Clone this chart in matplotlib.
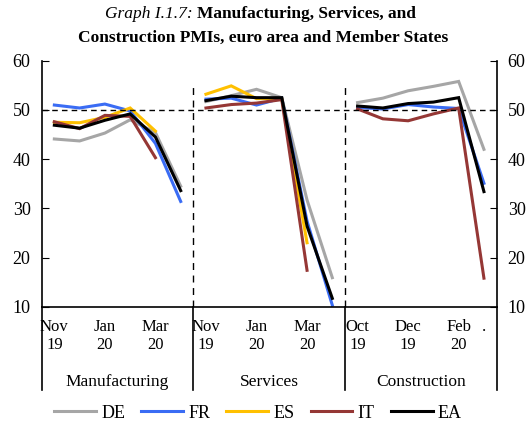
import numpy as np
import matplotlib
matplotlib.use("Agg")
import matplotlib.pyplot as plt

plt.rcParams["font.family"] = ["Liberation Serif", "DejaVu Serif"]

nan = np.nan
# 18 slots: Manufacturing (Nov19-Apr20), Services (Nov19-Apr20), Construction (Oct19-Mar20)
tick_labels = ["Nov\n19", "", "Jan\n20", "", "Mar\n20", "",
               "Nov\n19", "", "Jan\n20", "", "Mar\n20", "",
               "Oct\n19", "", "Dec\n19", "", "Feb\n20", "."]
groups = ["Manufacturing", "Services", "Construction"]

de = [44.1, 43.7, 45.3, 48.0, 45.4, 34.5,
      51.7, 52.9, 54.2, 52.5, 31.7, 15.9,
      51.5, 52.4, 53.9, 54.8, 55.8, 42.0]
fr = [51.0, 50.4, 51.2, 49.8, 43.2, 31.4,
      52.2, 52.4, 51.0, 52.4, 27.4, 10.3,
      50.5, 50.2, 51.1, 50.6, 50.3, 35.1]
es = [47.5, 47.4, 48.5, 50.4, 45.7, nan,
      53.2, 54.9, 52.3, 52.3, 23.0, nan,
      nan, nan, nan, nan, nan, nan]
it = [47.6, 46.2, 48.9, 48.7, 40.3, nan,
      50.4, 51.1, 51.4, 52.1, 17.4, nan,
      50.2, 48.2, 47.8, 49.2, 50.4, 15.8]
ea = [46.9, 46.3, 47.9, 49.2, 44.5, 33.6,
      51.9, 52.8, 52.5, 52.5, 26.4, 11.7,
      50.8, 50.4, 51.3, 51.6, 52.5, 33.4]

series = [("DE", de, "#A6A6A6"), ("FR", fr, "#3A6CF4"), ("ES", es, "#FFC000"),
          ("IT", it, "#953735"), ("EA", ea, "#000000")]

fig = plt.figure(figsize=(5.32, 4.28), dpi=100)
ax = fig.add_axes([0.0784, 0.2834, 0.855, 0.5746])

x = np.arange(18)
for name, vals, color in series:
    v = np.array(vals, dtype=float)
    for g in range(3):
        sl = slice(6 * g, 6 * g + 6)
        ax.plot(x[sl], v[sl], color=color, lw=2.2,
                label=name if g == 0 else None, solid_joinstyle="miter")

ax.axhline(50, color="k", ls=(0, (4, 3)), lw=1.0)
for xs in (5.5, 11.5):
    ax.axvline(xs, ymin=0, ymax=0.9, color="k", ls=(0, (5, 4)), lw=1.0)

ax.set_xlim(-0.5, 17.5)
ax.set_ylim(10, 60)
ax.set_yticks(range(10, 61, 10))
ax.tick_params(axis="y", direction="in", length=5, labelsize=13,
               right=True, labelright=True, pad=8)
ax.set_xticks(x)
ax.set_xticklabels(tick_labels, fontsize=12, linespacing=1.15)
ax.tick_params(axis="x", length=0, pad=9)
for lab in ax.get_xticklabels():
    lab.set_ha("center")
ax.spines["top"].set_visible(False)
for sp in ("left", "right", "bottom"):
    ax.spines[sp].set_linewidth(1.2)

# group separators below the axis and group names
for xs in (-0.5, 5.5, 11.5, 17.5):
    ax.plot([xs, xs], [0, -0.34], color="k", lw=1.2,
            transform=ax.get_xaxis_transform(), clip_on=False)
for g, name in enumerate(groups):
    ax.text(6 * g + 2.5, -0.305, name, fontsize=12.5, ha="center", va="center",
            transform=ax.get_xaxis_transform())

fig.legend(loc="center", bbox_to_anchor=(0.485, 0.035), ncol=5, frameon=False,
           fontsize=13, handlelength=2.3, columnspacing=0.9, handletextpad=0.3)

# title: italic prefix + bold text
t1 = fig.text(0.197, 0.967, "Graph I.1.7: ", style="italic", fontsize=12.5,
              ha="left", va="center")
fig.canvas.draw()
bb = t1.get_window_extent()
fig.text(bb.x1 / fig.bbox.width, 0.967, "Manufacturing, Services, and",
         weight="bold", fontsize=12.5, ha="left", va="center")
fig.text(0.494, 0.911, "Construction PMIs, euro area and Member States",
         weight="bold", fontsize=12.5, ha="center", va="center")

fig.savefig("out.png", dpi=100)
